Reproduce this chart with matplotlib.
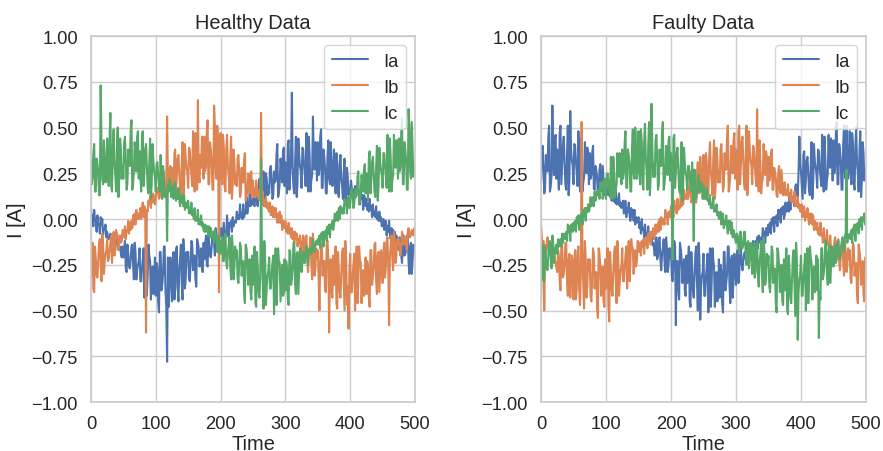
import numpy as np
import matplotlib
matplotlib.use("Agg")
import matplotlib.pyplot as plt
import seaborn as sns

# Sample times (one sample every 1.25 time units)
time = np.arange(0, 500, 1.25)

healthy_ia = [
    0.06, 0.00, 0.02, -0.04, 0.05, -0.01, 0.00, -0.07, 0.02, -0.03, -0.03, -0.08, 0.01, -0.03, 0.00, -0.09, -0.05, -0.05, -0.03, -0.10,
    -0.07, -0.10, -0.11, -0.10, -0.08, -0.09, -0.12, -0.11, -0.11, -0.15, -0.17, -0.11, -0.11, -0.13, -0.17, -0.16, -0.15, -0.19, -0.21, -0.15,
    -0.21, -0.16, -0.12, -0.27, -0.29, -0.14, -0.19, -0.26, -0.27, -0.22, -0.15, -0.14, -0.25, -0.33, -0.13, -0.18, -0.33, -0.28, -0.25, -0.23,
    -0.16, -0.34, -0.34, -0.27, -0.22, -0.16, -0.43, -0.25, -0.14, -0.42, -0.31, -0.14, -0.20, -0.23, -0.44, -0.32, -0.26, -0.41, -0.38, -0.21,
    -0.42, -0.24, -0.27, -0.45, -0.51, -0.18, -0.18, -0.39, -0.36, -0.30, -0.15, -0.15, -0.39, -0.48, -0.78, -0.21, -0.48, -0.36, -0.21, -0.27,
    -0.45, -0.24, -0.18, -0.44, -0.38, -0.17, -0.15, -0.37, -0.45, -0.28, -0.22, -0.14, -0.34, -0.44, -0.11, -0.19, -0.38, -0.32, -0.18, -0.23,
    -0.18, -0.32, -0.34, -0.24, -0.12, -0.14, -0.28, -0.20, -0.20, -0.33, -0.37, -0.11, -0.13, -0.16, -0.26, -0.22, -0.16, -0.27, -0.29, -0.13,
    -0.22, -0.14, -0.09, -0.25, -0.26, -0.09, -0.14, -0.20, -0.21, -0.15, -0.08, -0.07, -0.14, -0.20, -0.05, -0.08, -0.18, -0.14, -0.11, -0.09,
    -0.09, -0.05, -0.14, -0.08, -0.02, -0.12, -0.10, -0.08, 0.02, -0.06, -0.10, -0.02, -0.04, -0.01, -0.07, 0.01, -0.04, -0.02, -0.01, -0.02,
    0.04, 0.00, 0.02, 0.00, 0.08, 0.01, 0.03, 0.00, 0.08, 0.01, 0.03, 0.03, 0.12, 0.03, 0.07, 0.07, 0.16, 0.07, 0.08, 0.08,
    0.15, 0.08, 0.07, 0.17, 0.16, 0.08, 0.07, 0.18, 0.22, 0.15, 0.12, 0.08, 0.19, 0.26, 0.07, 0.12, 0.25, 0.22, 0.13, 0.18,
    0.14, 0.27, 0.29, 0.22, 0.11, 0.13, 0.26, 0.20, 0.21, 0.35, 0.41, 0.12, 0.14, 0.20, 0.33, 0.28, 0.20, 0.36, 0.39, 0.18,
    0.31, 0.22, 0.14, 0.41, 0.43, 0.16, 0.24, 0.35, 0.69, 0.28, 0.17, 0.14, 0.31, 0.45, 0.12, 0.20, 0.44, 0.35, 0.29, 0.26,
    0.17, 0.39, 0.38, 0.30, 0.24, 0.18, 0.47, 0.27, 0.15, 0.45, 0.33, 0.15, 0.21, 0.24, 0.56, 0.33, 0.27, 0.42, 0.39, 0.21,
    0.42, 0.24, 0.27, 0.45, 0.49, 0.17, 0.17, 0.38, 0.34, 0.28, 0.14, 0.14, 0.35, 0.43, 0.22, 0.19, 0.42, 0.31, 0.18, 0.23,
    0.38, 0.20, 0.14, 0.36, 0.31, 0.14, 0.12, 0.29, 0.35, 0.22, 0.18, 0.11, 0.25, 0.33, 0.08, 0.14, 0.28, 0.23, 0.13, 0.17,
    0.14, 0.21, 0.17, 0.16, 0.16, 0.11, 0.18, 0.12, 0.17, 0.14, 0.14, 0.15, 0.08, 0.16, 0.11, 0.13, 0.05, 0.13, 0.12, 0.07,
    0.11, 0.05, 0.08, 0.04, 0.11, 0.05, 0.07, 0.01, 0.08, 0.02, 0.04, 0.01, 0.07, 0.00, 0.03, -0.01, 0.04, -0.01, 0.01, -0.04,
    -0.04, 0.00, -0.06, -0.03, -0.01, -0.09, -0.04, -0.07, -0.01, -0.08, -0.11, -0.05, -0.09, -0.06, -0.13, -0.07, -0.13, -0.09, -0.12, -0.16,
    -0.17, -0.10, -0.12, -0.20, -0.24, -0.09, -0.09, -0.20, -0.19, -0.17, -0.09, -0.09, -0.23, -0.30, -0.15, -0.13, -0.30, -0.23, -0.14, -0.18,
]

healthy_ib = [
    -0.32, -0.21, -0.13, -0.38, -0.40, -0.15, -0.22, -0.31, -0.32, -0.23, -0.13, -0.11, -0.24, -0.34, -0.08, -0.14, -0.30, -0.23, -0.19, -0.17,
    -0.11, -0.23, -0.22, -0.17, -0.13, -0.09, -0.24, -0.13, -0.07, -0.20, -0.14, -0.06, -0.08, -0.09, -0.17, -0.12, -0.09, -0.13, -0.12, -0.06,
    -0.08, -0.10, -0.04, -0.11, -0.06, -0.07, -0.01, -0.08, -0.02, -0.06, -0.01, -0.05, 0.02, -0.03, 0.03, -0.03, 0.05, 0.00, 0.03, 0.00,
    0.02, 0.06, 0.00, 0.06, 0.09, 0.01, 0.07, 0.04, -0.62, 0.05, 0.04, 0.10, 0.08, 0.13, 0.06, 0.13, 0.09, 0.14, 0.11, 0.08,
    0.11, 0.16, 0.17, 0.15, 0.11, 0.12, 0.18, 0.16, 0.16, 0.23, 0.26, 0.13, 0.14, 0.17, 0.56, 0.22, 0.18, 0.27, 0.29, 0.18,
    0.28, 0.19, 0.12, 0.36, 0.38, 0.15, 0.23, 0.33, 0.35, 0.26, 0.16, 0.13, 0.29, 0.42, 0.11, 0.19, 0.41, 0.33, 0.28, 0.25,
    0.17, 0.39, 0.38, 0.30, 0.24, 0.18, 0.48, 0.28, 0.15, 0.47, 0.34, 0.16, 0.65, 0.25, 0.20, 0.35, 0.28, 0.45, 0.41, 0.22,
    0.45, 0.26, 0.29, 0.48, 0.54, 0.19, 0.19, 0.42, 0.38, 0.32, 0.16, 0.16, 0.62, 0.51, 0.26, 0.22, 0.51, 0.38, -0.40, 0.29,
    0.47, 0.25, 0.19, 0.46, 0.39, 0.18, 0.15, 0.38, 0.46, 0.29, 0.23, 0.14, 0.34, 0.45, 0.11, 0.19, 0.38, 0.32, 0.19, 0.24,
    0.18, 0.33, 0.35, 0.25, 0.12, 0.14, 0.28, 0.20, 0.20, 0.32, 0.36, 0.10, 0.12, 0.16, 0.25, 0.20, 0.14, 0.25, 0.26, 0.12,
    0.21, 0.12, 0.14, 0.12, 0.21, 0.13, 0.15, 0.11, 0.16, 0.10, 0.58, 0.09, 0.15, 0.08, 0.10, 0.07, 0.12, 0.06, 0.09, 0.05,
    0.04, 0.09, 0.02, 0.05, 0.07, 0.01, 0.06, 0.01, 0.06, 0.01, -0.02, 0.03, -0.02, 0.04, -0.02, 0.02, -0.06, -0.01, -0.02, -0.05,
    -0.01, -0.07, -0.04, -0.08, -0.02, -0.08, -0.05, -0.10, -0.05, -0.11, -0.07, -0.13, -0.07, -0.11, -0.08, -0.15, -0.11, -0.13, -0.09, -0.18,
    -0.21, -0.12, -0.09, -0.23, -0.21, -0.10, -0.09, -0.23, -0.29, -0.19, -0.15, -0.10, -0.24, -0.33, -0.08, -0.15, -0.31, -0.27, -0.16, -0.21,
    -0.17, -0.32, -0.50, -0.25, -0.13, -0.15, -0.31, -0.23, -0.23, -0.39, -0.40, -0.13, -0.12, -0.22, -0.62, -0.31, -0.22, -0.39, -0.43, -0.20,
    -0.36, -0.24, -0.15, -0.46, -0.49, -0.18, -0.28, -0.40, -0.43, -0.31, -0.18, -0.16, -0.34, -0.50, -0.12, -0.22, -0.47, -0.37, -0.60, -0.28,
    -0.19, -0.40, -0.40, -0.31, -0.25, -0.19, -0.50, -0.28, -0.15, -0.46, -0.34, -0.15, -0.22, -0.24, -0.46, -0.33, -0.28, -0.42, -0.40, -0.21,
    -0.41, -0.23, -0.26, -0.43, -0.48, -0.17, -0.17, -0.36, -0.32, -0.27, -0.14, -0.13, -0.34, -0.41, -0.20, -0.18, -0.40, -0.29, -0.17, -0.21,
    -0.35, -0.18, -0.13, -0.32, -0.27, -0.12, -0.10, -0.26, -0.58, -0.20, -0.15, -0.09, -0.22, -0.28, -0.07, -0.12, -0.24, -0.20, -0.11, -0.14,
    -0.11, -0.17, -0.20, -0.14, -0.07, -0.10, -0.14, -0.11, -0.10, -0.13, -0.17, -0.07, -0.05, -0.08, -0.10, -0.08, -0.06, -0.08, -0.09, -0.05,
]

healthy_ic = [
    0.32, 0.19, 0.22, 0.36, 0.41, 0.15, 0.15, 0.33, 0.30, 0.26, 0.13, 0.13, 0.73, 0.42, 0.22, 0.19, 0.43, 0.33, 0.20, 0.25,
    0.44, 0.23, 0.18, 0.44, 0.58, 0.18, 0.15, 0.39, 0.49, 0.31, 0.25, 0.15, 0.37, 0.50, 0.12, 0.22, 0.44, 0.38, 0.22, 0.29,
    0.22, 0.42, 0.45, 0.32, 0.16, 0.19, 0.38, 0.29, 0.29, 0.48, 0.54, 0.16, 0.19, 0.26, 0.42, 0.35, 0.26, 0.45, 0.48, 0.22,
    0.37, 0.24, 0.15, 0.45, 0.48, 0.18, 0.26, 0.38, 0.41, 0.29, 0.17, 0.14, 0.31, 0.44, 0.11, 0.19, 0.41, 0.32, 0.26, 0.23,
    0.15, 0.30, 0.31, 0.24, 0.18, 0.15, 0.35, 0.20, 0.11, 0.29, 0.22, 0.12, 0.13, 0.16, -0.12, 0.19, 0.15, 0.22, 0.21, 0.12,
    0.16, 0.18, 0.11, 0.17, 0.20, 0.10, 0.14, 0.11, 0.17, 0.11, 0.07, 0.13, 0.09, 0.13, 0.07, 0.13, 0.05, 0.09, 0.07, 0.06,
    0.10, 0.03, 0.06, 0.03, 0.09, 0.02, 0.04, 0.00, 0.06, -0.01, 0.01, -0.01, 0.05, -0.03, 0.00, -0.03, 0.02, -0.04, -0.02, -0.06,
    -0.07, -0.03, -0.07, -0.04, -0.04, -0.09, -0.04, -0.10, -0.05, -0.08, -0.10, -0.07, -0.13, -0.06, -0.10, -0.09, -0.18, -0.09, -0.10, -0.17,
    -0.19, -0.12, -0.10, -0.23, -0.23, -0.10, -0.08, -0.23, -0.27, -0.19, -0.14, -0.10, -0.26, -0.33, -0.09, -0.15, -0.33, -0.27, -0.15, -0.21,
    -0.17, -0.32, -0.35, -0.25, -0.13, -0.15, -0.31, -0.23, -0.23, -0.40, -0.46, -0.14, -0.16, -0.22, -0.36, -0.31, -0.22, -0.40, -0.44, -0.20,
    -0.36, -0.24, -0.15, -0.46, -0.48, -0.18, -0.27, -0.40, -0.43, -0.31, 0.33, -0.15, -0.34, -0.49, -0.12, -0.22, -0.47, -0.37, -0.31, -0.28,
    -0.21, -0.38, -0.38, -0.30, -0.24, -0.20, -0.52, -0.27, -0.16, -0.47, -0.33, -0.16, -0.23, -0.24, -0.45, -0.35, -0.25, -0.42, -0.41, -0.22,
    -0.39, -0.23, -0.27, -0.44, -0.47, -0.17, -0.18, -0.36, -0.33, -0.27, -0.13, -0.13, -0.36, -0.41, -0.19, -0.18, -0.41, -0.29, -0.16, -0.22,
    -0.29, -0.20, -0.18, -0.24, -0.24, -0.18, -0.15, -0.21, -0.25, -0.17, -0.16, -0.17, -0.19, -0.16, -0.11, -0.16, -0.18, -0.14, -0.12, -0.14,
    -0.11, -0.14, -0.09, -0.16, -0.08, -0.11, -0.07, -0.15, -0.07, -0.10, -0.06, -0.12, -0.04, -0.08, -0.03, -0.10, -0.03, -0.05, -0.01, -0.06,
    -0.03, 0.03, -0.01, 0.02, 0.04, -0.01, 0.06, 0.00, 0.07, 0.04, 0.03, 0.06, 0.03, 0.11, 0.08, 0.09, 0.03, 0.12, 0.12, 0.06,
    0.08, 0.15, 0.17, 0.13, 0.06, 0.08, 0.16, 0.13, 0.13, 0.23, 0.26, 0.08, 0.10, 0.14, 0.24, 0.20, 0.15, 0.27, 0.30, 0.14,
    0.25, 0.17, 0.11, 0.33, 0.37, 0.14, 0.21, 0.31, 0.34, 0.24, 0.15, 0.12, 0.28, 0.40, 0.10, 0.18, 0.39, 0.31, 0.27, 0.24,
    0.17, 0.36, 0.36, 0.29, 0.23, 0.17, 0.46, 0.26, 0.15, 0.44, 0.33, 0.15, 0.21, 0.24, 0.46, 0.33, 0.28, 0.43, 0.40, 0.22,
    0.44, 0.26, 0.28, 0.48, 0.55, 0.19, 0.19, 0.42, 0.38, 0.32, 0.16, 0.16, 0.60, 0.51, 0.26, 0.22, 0.53, 0.38, 0.23, 0.29,
]

faulty_ia = [
    0.20, 0.37, 0.40, 0.29, 0.14, 0.17, 0.35, 0.27, 0.26, 0.45, 0.51, 0.15, 0.18, 0.24, 0.62, 0.34, 0.24, 0.43, 0.46, 0.22,
    0.38, 0.25, 0.16, 0.47, 0.51, 0.19, 0.29, 0.40, 0.45, 0.31, 0.19, 0.16, 0.35, 0.51, 0.13, 0.22, 0.59, 0.38, 0.32, 0.29,
    0.19, 0.41, 0.40, 0.31, 0.25, 0.18, 0.48, 0.27, 0.15, 0.44, 0.32, 0.15, 0.20, 0.23, 0.42, 0.31, 0.25, 0.39, 0.35, 0.19,
    0.36, 0.22, 0.24, 0.36, 0.40, 0.17, 0.16, 0.29, 0.27, 0.23, 0.13, 0.13, 0.27, 0.30, 0.16, 0.15, 0.29, 0.21, 0.13, 0.16,
    0.22, 0.14, 0.16, 0.13, 0.21, 0.13, 0.14, 0.10, 0.18, 0.10, 0.11, 0.09, 0.17, 0.08, 0.11, 0.08, 0.14, 0.07, 0.09, 0.06,
    0.07, 0.10, 0.03, 0.09, 0.10, 0.01, 0.06, 0.04, 0.09, 0.02, -0.01, 0.06, 0.01, 0.05, -0.01, 0.05, -0.03, 0.01, -0.01, -0.02,
    0.01, -0.05, -0.02, -0.08, 0.00, -0.06, -0.05, -0.10, -0.03, -0.09, -0.08, -0.11, -0.04, -0.12, -0.10, -0.13, -0.08, -0.14, -0.13, -0.16,
    -0.20, -0.12, -0.10, -0.22, -0.20, -0.11, -0.10, -0.22, -0.28, -0.19, -0.16, -0.11, -0.23, -0.29, -0.10, -0.16, -0.29, -0.25, -0.16, -0.21,
    -0.16, -0.31, -0.34, -0.24, -0.12, -0.15, -0.58, -0.23, -0.23, -0.38, -0.44, -0.13, -0.16, -0.21, -0.35, -0.30, -0.22, -0.39, -0.42, -0.20,
    -0.35, -0.23, -0.15, -0.45, -0.48, -0.18, -0.27, -0.39, -0.43, -0.31, -0.19, -0.15, -0.34, -0.50, -0.13, -0.22, -0.55, -0.38, -0.31, -0.29,
    -0.19, -0.42, -0.42, -0.32, -0.26, -0.19, -0.51, -0.29, -0.16, -0.48, -0.35, -0.16, -0.22, -0.26, -0.48, -0.35, -0.29, -0.45, -0.42, -0.22,
    -0.43, -0.25, -0.28, -0.46, -0.51, -0.18, -0.18, -0.39, -0.35, -0.30, -0.15, -0.15, -0.36, -0.46, -0.22, -0.20, -0.43, -0.33, -0.19, -0.24,
    -0.36, -0.22, -0.17, -0.35, -0.30, -0.16, -0.14, -0.25, -0.28, -0.23, -0.19, -0.18, -0.22, -0.21, -0.16, -0.19, -0.20, -0.17, -0.15, -0.17,
    -0.19, -0.12, -0.17, -0.15, -0.12, -0.17, -0.10, -0.16, -0.09, -0.12, -0.13, -0.10, -0.13, -0.05, -0.09, -0.07, -0.13, -0.05, -0.05, -0.09,
    -0.03, -0.07, -0.02, -0.08, 0.00, -0.03, 0.01, -0.07, 0.01, -0.02, 0.02, -0.04, 0.05, 0.00, 0.05, -0.02, 0.06, 0.03, 0.07, 0.00,
    0.02, 0.09, 0.04, 0.06, 0.09, 0.04, 0.12, 0.05, 0.12, 0.10, 0.12, 0.12, 0.07, 0.18, 0.19, 0.16, 0.12, 0.25, 0.45, 0.30,
    0.26, 0.18, 0.11, 0.35, 0.37, 0.14, 0.21, 0.32, 0.34, 0.25, 0.15, 0.13, 0.29, 0.42, 0.11, 0.19, 0.41, 0.32, 0.28, 0.25,
    0.17, 0.38, 0.37, 0.28, 0.23, 0.18, 0.46, 0.27, 0.15, 0.45, 0.33, 0.16, 0.21, 0.25, 0.46, 0.32, 0.28, 0.44, 0.40, 0.21,
    0.43, 0.25, 0.28, 0.47, 0.53, 0.19, 0.19, 0.41, 0.38, 0.32, 0.16, 0.16, 0.41, 0.51, 0.26, 0.22, 0.51, 0.38, 0.22, 0.29,
    0.48, 0.26, 0.19, 0.47, 0.41, 0.19, 0.16, 0.40, 0.50, 0.31, 0.25, 0.15, 0.37, 0.48, 0.12, 0.21, 0.42, 0.36, 0.21, 0.27,
]

faulty_ib = [
    -0.03, -0.10, -0.15, -0.12, -0.50, -0.14, -0.20, -0.16, -0.10, -0.15, -0.17, -0.19, -0.13, -0.20, -0.24, -0.15, -0.18, -0.22, -0.24, -0.27,
    -0.29, -0.17, -0.20, -0.34, -0.39, -0.14, -0.14, -0.32, -0.30, -0.25, -0.13, -0.13, -0.34, -0.42, -0.22, -0.19, -0.43, -0.33, -0.20, -0.25,
    -0.44, -0.23, -0.17, -0.44, -0.38, -0.18, -0.15, -0.39, -0.47, -0.30, 0.53, -0.15, -0.36, -0.49, -0.12, -0.21, -0.43, -0.37, -0.22, -0.28,
    -0.22, -0.42, -0.45, -0.32, -0.16, -0.19, -0.38, -0.29, -0.29, -0.48, -0.54, -0.16, -0.19, -0.26, -0.42, -0.35, -0.26, -0.45, -0.48, -0.22,
    -0.38, -0.25, -0.16, -0.47, -0.56, -0.18, -0.27, -0.39, -0.42, -0.30, -0.18, -0.15, -0.32, -0.46, -0.12, -0.20, -0.42, -0.34, -0.28, -0.25,
    -0.16, -0.34, -0.34, -0.26, -0.20, -0.15, -0.38, -0.21, -0.12, -0.34, -0.24, -0.11, -0.15, -0.16, -0.30, -0.21, -0.17, -0.26, -0.23, -0.12,
    -0.16, -0.18, -0.13, -0.20, -0.12, -0.15, -0.11, -0.19, -0.11, -0.14, -0.10, -0.16, -0.08, -0.12, -0.07, -0.14, -0.07, -0.09, -0.05, -0.11,
    -0.09, -0.03, -0.08, -0.05, -0.02, -0.07, 0.00, -0.06, 0.01, -0.02, -0.03, 0.00, -0.03, 0.05, 0.01, 0.03, -0.03, 0.04, 0.04, 0.01,
    0.07, 0.03, 0.05, 0.01, 0.10, 0.05, 0.07, 0.03, 0.11, 0.05, 0.07, 0.06, 0.14, 0.07, 0.10, 0.08, 0.16, 0.11, 0.13, 0.11,
    0.18, 0.11, 0.13, 0.22, 0.26, 0.09, 0.10, 0.21, 0.20, 0.18, 0.09, 0.09, 0.25, 0.31, 0.16, 0.14, 0.34, 0.26, 0.15, 0.20,
    0.35, 0.19, 0.14, 0.36, 0.31, 0.15, 0.13, 0.33, 0.42, 0.26, 0.21, 0.13, 0.32, 0.43, 0.11, 0.19, 0.39, 0.34, 0.20, 0.26,
    0.20, 0.38, 0.41, 0.29, 0.15, 0.18, 0.36, 0.27, 0.27, 0.45, 0.51, 0.15, 0.18, 0.24, 0.40, 0.34, 0.25, 0.43, 0.47, 0.22,
    0.38, 0.26, 0.16, 0.48, 0.51, 0.19, 0.29, 0.42, 0.45, 0.32, 0.19, 0.16, 0.35, 0.51, 0.13, 0.22, 0.48, 0.38, 0.32, 0.29,
    0.19, 0.40, 0.39, 0.30, 0.24, 0.18, 0.60, 0.26, 0.15, 0.43, 0.31, 0.14, 0.20, 0.22, 0.41, 0.30, 0.24, 0.37, 0.34, 0.18,
    0.34, 0.21, 0.23, 0.34, 0.38, 0.16, 0.16, 0.28, 0.26, 0.22, 0.13, 0.12, 0.25, 0.29, 0.16, 0.14, 0.27, 0.20, 0.13, 0.15,
    0.20, 0.13, 0.16, 0.13, 0.19, 0.12, 0.14, 0.10, 0.16, 0.09, 0.11, 0.09, 0.15, 0.07, 0.10, 0.07, 0.12, 0.06, 0.08, 0.04,
    0.04, 0.08, 0.01, 0.06, 0.07, -0.01, 0.04, 0.01, 0.06, 0.00, -0.03, 0.03, -0.02, 0.03, -0.03, 0.02, -0.06, -0.01, -0.03, -0.06,
    -0.02, -0.08, -0.05, -0.09, -0.02, -0.09, -0.08, -0.13, -0.05, -0.12, -0.11, -0.14, -0.06, -0.14, -0.13, -0.17, -0.09, -0.16, -0.15, -0.22,
    -0.21, -0.13, -0.10, -0.23, -0.22, -0.12, -0.11, -0.23, -0.28, -0.20, -0.17, -0.12, -0.24, -0.31, -0.12, -0.18, -0.29, -0.26, -0.16, -0.22,
    -0.17, -0.32, -0.35, -0.25, -0.13, -0.15, -0.31, -0.24, -0.24, -0.41, -0.46, -0.14, -0.17, -0.22, -0.36, -0.31, -0.23, -0.41, -0.45, -0.21,
]

faulty_ic = [
    -0.45, -0.21, -0.14, -0.33, -0.34, -0.15, -0.20, -0.27, -0.28, -0.21, -0.13, -0.12, -0.21, -0.27, -0.09, -0.13, -0.24, -0.19, -0.16, -0.14,
    -0.19, -0.11, -0.15, -0.12, -0.11, -0.15, -0.08, -0.13, -0.08, -0.10, -0.11, -0.07, -0.12, -0.03, -0.07, -0.04, -0.12, -0.03, -0.03, -0.07,
    -0.02, -0.06, -0.01, -0.07, 0.01, -0.02, 0.02, -0.06, 0.02, -0.01, 0.03, -0.03, 0.05, 0.01, 0.06, -0.01, 0.06, 0.04, 0.08, 0.04,
    0.06, 0.12, 0.07, 0.09, 0.12, 0.07, 0.15, 0.10, 0.15, 0.13, 0.13, 0.16, 0.11, 0.20, 0.17, 0.20, 0.11, 0.21, 0.22, 0.14,
    0.11, 0.24, 0.25, 0.20, 0.16, 0.12, 0.34, 0.19, 0.11, 0.34, 0.25, 0.12, 0.16, 0.19, 0.36, 0.27, 0.23, 0.36, 0.34, 0.19,
    0.38, 0.22, 0.25, 0.42, 0.48, 0.17, 0.17, 0.38, 0.35, 0.30, 0.15, 0.15, 0.39, 0.49, 0.25, 0.22, 0.50, 0.38, 0.22, 0.29,
    0.48, 0.26, 0.19, 0.49, 0.42, 0.19, 0.16, 0.43, 0.52, 0.33, 0.26, 0.16, 0.40, 0.53, 0.13, 0.23, 0.63, 0.40, 0.23, 0.30,
    0.23, 0.43, 0.46, 0.33, 0.16, 0.19, 0.38, 0.29, 0.29, 0.48, 0.53, 0.16, 0.19, 0.25, 0.40, 0.34, 0.24, 0.43, 0.45, 0.21,
    0.36, 0.24, -0.22, 0.44, 0.46, 0.17, 0.25, 0.36, 0.39, 0.28, 0.16, 0.14, 0.30, 0.42, 0.10, 0.18, 0.39, 0.31, 0.25, 0.23,
    0.16, 0.29, 0.29, 0.23, 0.19, 0.15, 0.31, 0.19, -0.12, 0.27, 0.20, 0.11, 0.14, 0.15, 0.24, 0.18, 0.15, 0.20, 0.19, 0.11,
    0.18, 0.11, 0.14, 0.11, 0.17, 0.10, 0.11, 0.08, 0.13, 0.06, 0.08, 0.06, 0.12, 0.04, 0.06, 0.04, 0.08, 0.02, 0.04, 0.00,
    0.00, 0.04, -0.03, 0.02, 0.03, -0.05, -0.01, -0.03, 0.02, -0.04, -0.08, -0.01, -0.06, -0.01, -0.08, -0.02, -0.10, -0.06, -0.08, -0.11,
    -0.13, -0.08, -0.09, -0.16, -0.19, -0.07, -0.07, -0.16, -0.16, -0.14, -0.07, -0.07, -0.20, -0.25, -0.13, -0.12, -0.27, -0.21, -0.13, -0.17,
    -0.30, -0.16, -0.13, -0.32, -0.29, -0.14, -0.12, -0.30, -0.37, -0.24, -0.19, -0.12, -0.30, -0.40, -0.10, -0.18, -0.36, -0.32, -0.19, -0.25,
    -0.20, -0.37, -0.40, -0.29, -0.15, -0.18, -0.35, -0.27, -0.27, -0.46, -0.51, -0.16, -0.18, -0.25, -0.40, -0.35, -0.25, -0.45, -0.47, -0.22,
    -0.39, -0.26, -0.16, -0.50, -0.52, -0.20, -0.29, -0.43, -0.46, -0.33, -0.20, -0.17, -0.36, -0.53, -0.13, -0.23, -0.66, -0.40, -0.33, -0.30,
    -0.20, -0.42, -0.42, -0.32, -0.26, -0.19, -0.50, -0.28, -0.16, -0.46, -0.33, -0.15, -0.21, -0.24, -0.44, -0.32, -0.26, -0.40, -0.36, -0.20,
    -0.39, -0.22, -0.65, -0.40, -0.44, -0.16, -0.16, -0.33, -0.30, -0.25, -0.12, -0.12, -0.30, -0.36, -0.18, -0.15, -0.35, -0.26, -0.15, -0.18,
    -0.26, -0.17, -0.14, -0.24, -0.21, -0.13, -0.12, -0.19, -0.22, -0.16, -0.13, -0.10, -0.16, -0.18, -0.09, -0.10, 0.27, -0.13, -0.09, -0.10,
    -0.08, -0.11, -0.06, -0.13, -0.05, -0.08, -0.03, -0.12, -0.03, -0.06, -0.02, -0.08, 0.00, -0.04, 0.01, -0.06, 0.01, -0.01, 0.03, -0.03,
]

phase_labels = ["Ia", "Ib", "Ic"]
panel_titles = ["Healthy Data", "Faulty Data"]
y_ticks = [-1.00, -0.75, -0.50, -0.25, 0.00, 0.25, 0.50, 0.75, 1.00]
x_ticks = [0, 100, 200, 300, 400, 500]

sns.set_theme(style="whitegrid", font_scale=1.2)
plt.rcParams["font.family"] = ["Liberation Sans", "DejaVu Sans"]

fig = plt.figure(figsize=(8.83, 4.52), dpi=100)
ax_h = fig.add_axes([0.103, 0.1084, 0.367, 0.8097])
ax_f = fig.add_axes([0.6127, 0.1084, 0.368, 0.8097])

panels = [
    (ax_h, [healthy_ia, healthy_ib, healthy_ic]),
    (ax_f, [faulty_ia, faulty_ib, faulty_ic]),
]
for (ax, series), title in zip(panels, panel_titles):
    for values, label in zip(series, phase_labels):
        ax.plot(time, values, label=label, linewidth=1.5)
    ax.set_xlim(0, 500)
    ax.set_ylim(-1, 1)
    ax.set_xticks(x_ticks)
    ax.set_yticks(y_ticks)
    ax.set_title(title)
    ax.set_xlabel("Time", labelpad=1)
    ax.set_ylabel("I [A]")
    ax.legend(loc="upper right")

fig.savefig("out.png", dpi=100)
